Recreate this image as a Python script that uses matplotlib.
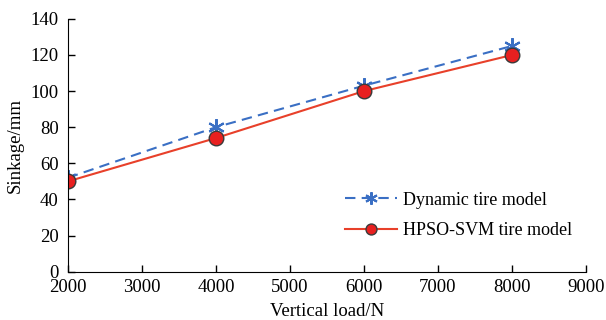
import numpy as np
import matplotlib
matplotlib.use("Agg")
import matplotlib.pyplot as plt

# data
load = [2000, 4000, 6000, 8000]
dynamic = [52, 80, 103, 125]
hpso_svm = [50, 74, 100, 120]

plt.rcParams['font.family'] = ['Liberation Serif', 'DejaVu Serif']
plt.rcParams['font.size'] = 13.5

fig = plt.figure(figsize=(6.06, 3.2), dpi=100)
ax = fig.add_axes([0.112, 0.151, 0.855, 0.790])

ax.plot(load, dynamic, color="#3a6fc4", linestyle=(0, (5, 3)), linewidth=1.5,
        marker=(6, 2, 0), markersize=12, markeredgewidth=1.5,
        label="Dynamic tire model")
ax.plot(load, hpso_svm, color="#e8402a", linewidth=1.5,
        marker="o", markersize=10.5, markerfacecolor="#e82020", markeredgecolor="#3a3a3a",
        markeredgewidth=1.0, label="HPSO-SVM tire model")

ax.set_xlim(2000, 9000)
ax.set_ylim(0, 140)
ax.set_xticks(np.arange(2000, 9001, 1000))
ax.set_yticks(np.arange(0, 141, 20))
ax.spines['top'].set_visible(False)
ax.spines['right'].set_visible(False)
ax.tick_params(direction='in', length=5, width=1)
ax.tick_params(axis='y', pad=6.5)
ax.tick_params(axis='x', pad=5)
ax.set_xlabel("Vertical load/N", labelpad=5.5)
ax.set_ylabel("Sinkage/mm", labelpad=5)

ax.legend(loc="upper left", bbox_to_anchor=(0.52, 0.345), frameon=False,
          handlelength=2.9, handletextpad=0.35, borderaxespad=0,
          labelspacing=0.75, fontsize=13, markerscale=0.75)

fig.savefig("out.png", dpi=100)
